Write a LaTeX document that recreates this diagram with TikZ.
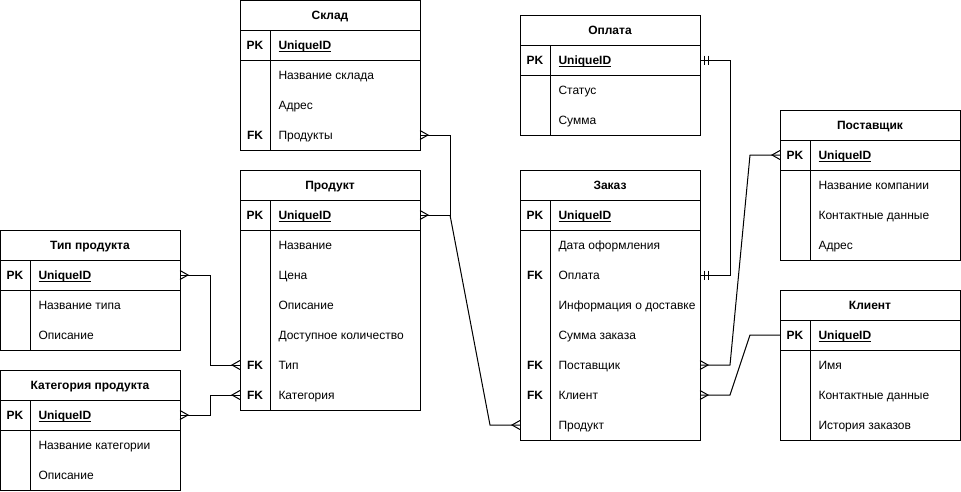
\documentclass[tikz,border=0pt]{standalone}
\usepackage{fontspec}
\setmainfont{Liberation Sans}
\newcommand\ertable[5]{%
  \node[tblbox, minimum height={(1+#5)*30pt}] (#1) at (#2,#3) {};
  \node[hdr] (#1-title) at ([yshift=-19.5pt]#1.north) {#4};
  \draw ([yshift=-30pt]#1.north west) -- ([yshift=-30pt]#1.north east);
  \draw ([yshift=-60pt]#1.north west) -- ([yshift=-60pt]#1.north east);
  \draw ([xshift=30pt,yshift=-30pt]#1.north west) -- ([xshift=30pt]#1.south west);
}
\newcommand\errow[5]{%
  \path (#1.north west) ++(0,15+30*#2) coordinate (#5);
  \node[keytxt] (#5-k) at ([xshift=15pt,yshift=-4.5pt]#5) {#3};
  \node[fieldtxt] (#5-t) at ([xshift=38pt,yshift=-4.5pt]#5) {#4};
}
\newcommand\crowfoot[2]{%
  \draw ([yshift=4.5pt]#1) -- ([xshift=#2*8pt]#1) -- ([yshift=-4.5pt]#1);
}
\newcommand\mandone[2]{%
  \draw ([xshift=#2*4pt,yshift=4.5pt]#1) -- ([xshift=#2*4pt,yshift=-4.5pt]#1);
  \draw ([xshift=#2*8pt,yshift=4.5pt]#1) -- ([xshift=#2*8pt,yshift=-4.5pt]#1);
}
\newcommand\uid{\textbf{\setbox0\hbox{UniqueID}\rlap{\rule[-2.2pt]{\wd0}{0.9pt}}\box0}}
\begin{document}
\begin{tikzpicture}[x=1pt,y=-1pt, line width=1pt,
  tblbox/.style={draw, line width=1pt, anchor=north west, minimum width=180pt, inner sep=0pt, outer sep=0pt},
  hdr/.style={font=\fontsize{12}{14}\selectfont\bfseries, anchor=base, inner sep=0pt},
  keytxt/.style={font=\fontsize{12}{14}\selectfont\bfseries, anchor=base, inner sep=0pt},
  fieldtxt/.style={font=\fontsize{12}{14}\selectfont, anchor=base west, inner sep=0pt}]
\useasboundingbox (0,0) rectangle (961,491);
\fill[white] (0,0) rectangle (961,491);

% Склад
\ertable{sklad}{240}{0}{Склад}{4}
\errow{sklad}{1}{PK}{\uid}{skpk}
\errow{sklad}{2}{}{Название склада}{skname}
\errow{sklad}{3}{}{Адрес}{skaddr}
\errow{sklad}{4}{FK}{Продукты}{skfk}

% Оплата
\ertable{oplata}{520}{15}{Оплата}{3}
\errow{oplata}{1}{PK}{\uid}{oppk}
\errow{oplata}{2}{}{Статус}{opstat}
\errow{oplata}{3}{}{Сумма}{opsum}

% Поставщик
\ertable{post}{780}{110}{Поставщик}{4}
\errow{post}{1}{PK}{\uid}{pspk}
\errow{post}{2}{}{Название компании}{psname}
\errow{post}{3}{}{Контактные данные}{pscont}
\errow{post}{4}{}{Адрес}{psaddr}

% Продукт
\ertable{prod}{240}{170}{Продукт}{7}
\errow{prod}{1}{PK}{\uid}{prpk}
\errow{prod}{2}{}{Название}{prname}
\errow{prod}{3}{}{Цена}{prprice}
\errow{prod}{4}{}{Описание}{prdesc}
\errow{prod}{5}{}{Доступное количество}{prqty}
\errow{prod}{6}{FK}{Тип}{prtip}
\errow{prod}{7}{FK}{Категория}{prkat}

% Заказ
\ertable{zakaz}{520}{170}{Заказ}{8}
\errow{zakaz}{1}{PK}{\uid}{zkpk}
\errow{zakaz}{2}{}{Дата оформления}{zkdate}
\errow{zakaz}{3}{FK}{Оплата}{zkopl}
\errow{zakaz}{4}{}{Информация о доставке}{zkinfo}
\errow{zakaz}{5}{}{Сумма заказа}{zksum}
\errow{zakaz}{6}{FK}{Поставщик}{zkpost}
\errow{zakaz}{7}{FK}{Клиент}{zkkl}
\errow{zakaz}{8}{}{Продукт}{zkprod}

% Тип продукта
\ertable{tip}{0}{230}{Тип продукта}{3}
\errow{tip}{1}{PK}{\uid}{tppk}
\errow{tip}{2}{}{Название типа}{tpname}
\errow{tip}{3}{}{Описание}{tpdesc}

% Категория продукта
\ertable{kat}{0}{370}{Категория продукта}{3}
\errow{kat}{1}{PK}{\uid}{ktpk}
\errow{kat}{2}{}{Название категории}{ktname}
\errow{kat}{3}{}{Описание}{ktdesc}

% Клиент
\ertable{klient}{780}{290}{Клиент}{4}
\errow{klient}{1}{PK}{\uid}{klpk}
\errow{klient}{2}{}{Имя}{klname}
\errow{klient}{3}{}{Контактные данные}{klcont}
\errow{klient}{4}{}{История заказов}{klhist}

% end points
\coordinate (e-skfk) at (sklad.east |- skfk);
\coordinate (e-prpk) at (prod.east |- prpk);
\coordinate (e-zkprod) at (zakaz.west |- zkprod);
\coordinate (e-oppk) at (oplata.east |- oppk);
\coordinate (e-zkopl) at (zakaz.east |- zkopl);
\coordinate (e-pspk) at (post.west |- pspk);
\coordinate (e-zkpost) at (zakaz.east |- zkpost);
\coordinate (e-klpk) at (klient.west |- klpk);
\coordinate (e-zkkl) at (zakaz.east |- zkkl);
\coordinate (e-tppk) at (tip.east |- tppk);
\coordinate (e-prtip) at (prod.west |- prtip);
\coordinate (e-ktpk) at (kat.east |- ktpk);
\coordinate (e-prkat) at (prod.west |- prkat);

% junctions
\coordinate (j-sk) at ([xshift=30pt]e-skfk);
\coordinate (j-pr) at (j-sk |- e-prpk);
\coordinate (j-zp) at ([xshift=-30pt]e-zkprod);
\coordinate (j-op) at ([xshift=30pt]e-oppk);
\coordinate (j-ps) at ([xshift=-30pt]e-pspk);
\coordinate (j-zps) at ([xshift=30pt]e-zkpost);
\coordinate (j-kl) at ([xshift=-30pt]e-klpk);
\coordinate (j-zkl) at ([xshift=30pt]e-zkkl);
\coordinate (j-tp) at ([xshift=30pt]e-tppk);
\coordinate (j-kt) at ([xshift=30pt]e-ktpk);

% connectors
\draw (e-skfk) -- (j-sk) -- (j-pr) -- (e-prpk);
\draw (j-pr) -- (j-zp) -- (e-zkprod);
\draw (e-oppk) -- (j-op) -- (j-op |- e-zkopl) -- (e-zkopl);
\draw (e-pspk) -- (j-ps) -- (j-zps) -- (e-zkpost);
\draw (e-klpk) -- (j-kl) -- (j-zkl) -- (e-zkkl);
\draw (e-tppk) -- (j-tp) -- (j-tp |- e-prtip) -- (e-prtip);
\draw (e-ktpk) -- (j-kt) -- (j-kt |- e-prkat) -- (e-prkat);

% markers
\crowfoot{e-skfk}{1}
\crowfoot{e-prpk}{1}
\crowfoot{e-zkprod}{-1}
\mandone{e-oppk}{1}
\mandone{e-zkopl}{1}
\crowfoot{e-pspk}{-1}
\crowfoot{e-zkpost}{1}
\crowfoot{e-zkkl}{1}
\crowfoot{e-tppk}{1}
\crowfoot{e-prtip}{-1}
\crowfoot{e-ktpk}{1}
\crowfoot{e-prkat}{-1}
\end{tikzpicture}
\end{document}
